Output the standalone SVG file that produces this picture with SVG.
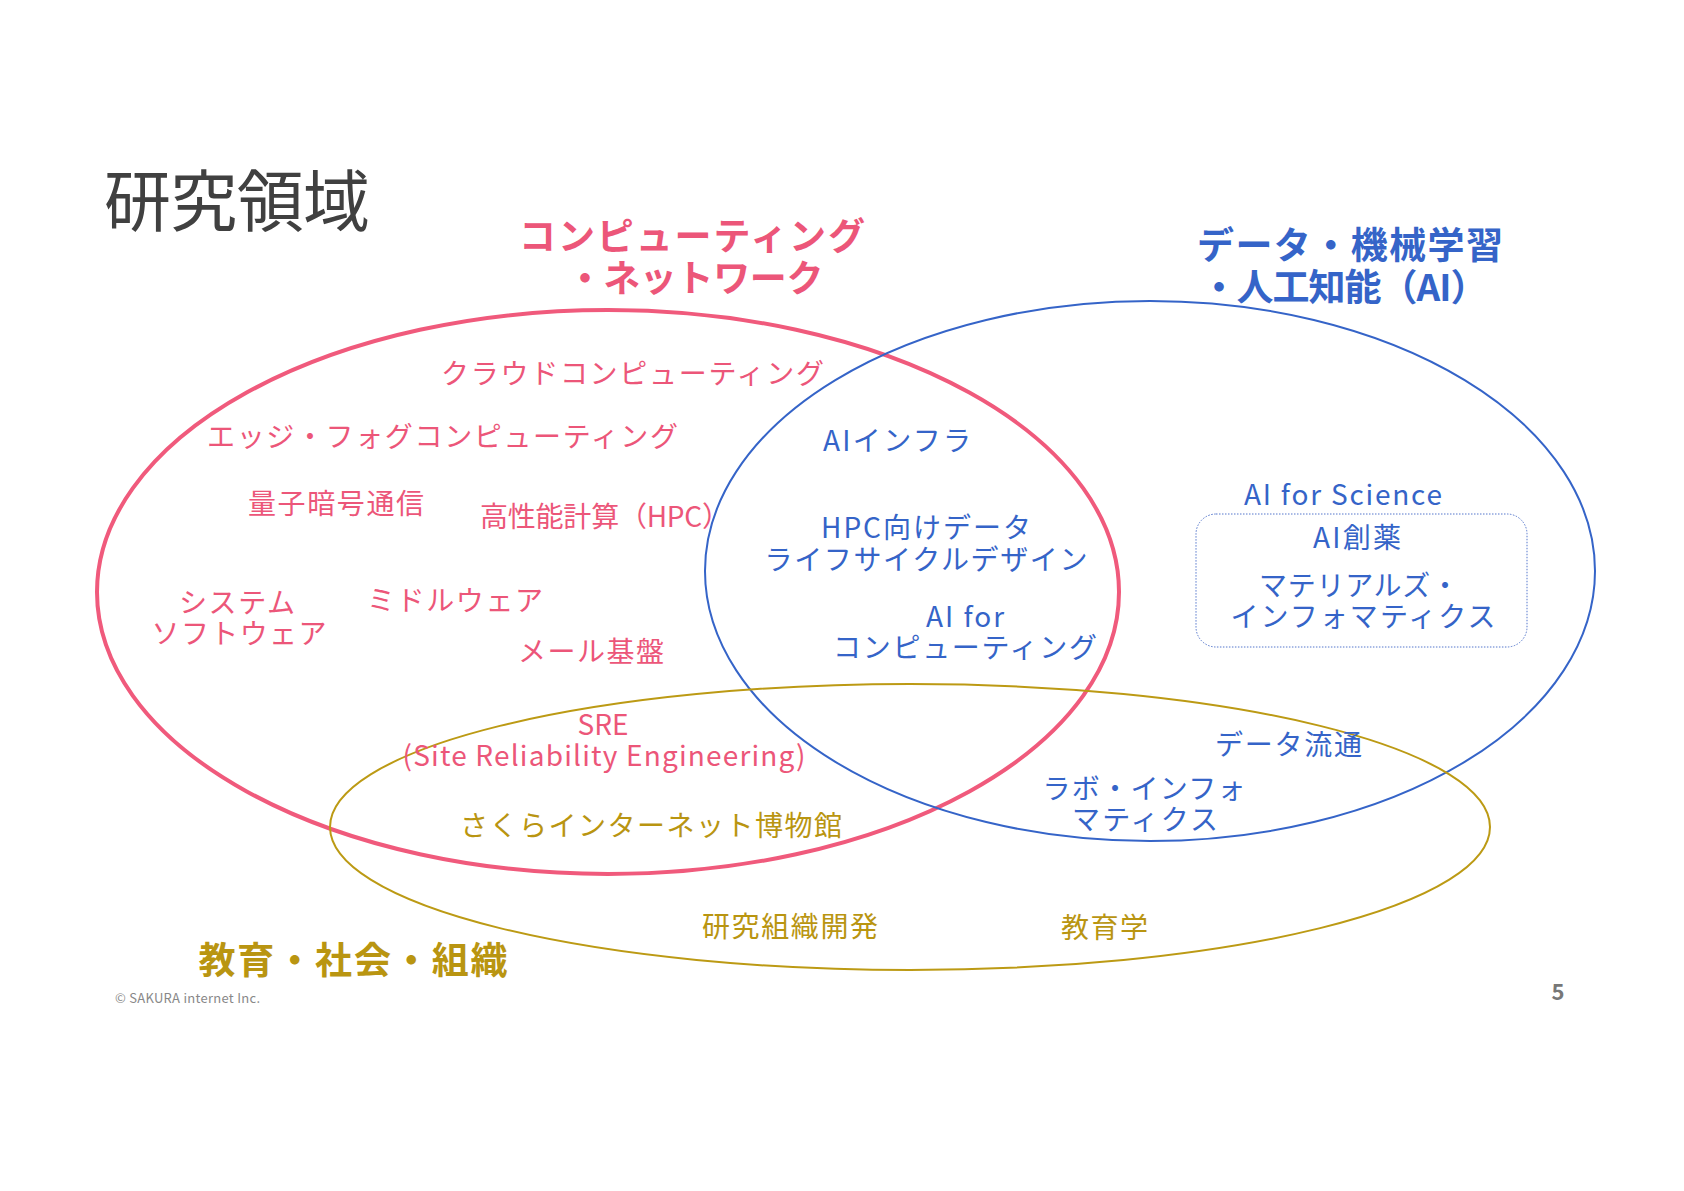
<svg xmlns="http://www.w3.org/2000/svg" width="1684" height="1191" viewBox="0 0 1684 1191">
<style>
  text { font-family: "Noto Sans CJK JP", "Noto Sans", sans-serif; }
  .r { fill: #EC5679; font-size: 28px; }
  .b { fill: #3564C8; font-size: 28px; }
  .g { fill: #B99511; font-size: 28px; }
  .m { text-anchor: middle; }
  .h { font-size: 37px; font-weight: 700; text-anchor: middle; }
</style>
<rect width="1684" height="1191" fill="#FFFFFF"/>
<g id="regions" fill="none">
  <ellipse id="region-computing" cx="608" cy="592" rx="511" ry="282" stroke="#F05A7C" stroke-width="4"/>
  <ellipse id="region-ai" cx="1150" cy="571" rx="445" ry="270" stroke="#3564C8" stroke-width="2"/>
  <ellipse id="region-edu" cx="910" cy="827" rx="580" ry="143" stroke="#BC9A14" stroke-width="2"/>
</g>
<g id="connectors"></g>
<g id="title"><text x="104" y="226" font-size="67" fill="#404040" textLength="266">研究領域</text></g>
<g id="head-computing">
  <text class="h" x="692" y="250" fill="#EC5679" textLength="346">コンピューティング</text>
  <text class="h" x="695" y="292" fill="#EC5679" textLength="257">・ネットワーク</text>
</g>
<g id="head-ai">
  <text class="h" x="1350" y="259" fill="#3564C8" textLength="306">データ・機械学習</text>
  <text class="h" x="1344" y="301" fill="#3564C8" textLength="287">・人工知能（AI）</text>
</g>
<g id="head-edu"><text class="h" x="353" y="974" fill="#B99511" textLength="309">教育・社会・組織</text></g>

<g id="n-cloud"><text class="r" x="441" y="384" textLength="383">クラウドコンピューティング</text></g>
<g id="n-edge"><text class="r" x="207" y="447" textLength="471">エッジ・フォグコンピューティング</text></g>
<g id="n-quantum"><text class="r" x="248" y="514" textLength="176">量子暗号通信</text></g>
<g id="n-hpc"><text class="r" x="480" y="527" textLength="250">高性能計算（HPC）</text></g>
<g id="n-syssoft">
  <text class="r m" x="237" y="613" textLength="116">システム</text>
  <text class="r m" x="239" y="644" textLength="175">ソフトウェア</text>
</g>
<g id="n-middleware"><text class="r" x="367" y="611" textLength="176">ミドルウェア</text></g>
<g id="n-mail"><text class="r" x="518" y="662" textLength="146">メール基盤</text></g>
<g id="n-sre">
  <text class="r m" x="603" y="735">SRE</text>
  <text class="r m" x="604" y="766" textLength="403">(Site Reliability Engineering)</text>
</g>
<g id="n-museum"><text class="g" x="460" y="836" textLength="382">さくらインターネット博物館</text></g>
<g id="n-orgdev"><text class="g" x="702" y="937" textLength="176">研究組織開発</text></g>
<g id="n-pedagogy"><text class="g" x="1061" y="938" textLength="87">教育学</text></g>

<g id="n-aiinfra"><text class="b" x="823" y="451" textLength="148">AIインフラ</text></g>
<g id="n-hpcdata">
  <text class="b m" x="926" y="538" textLength="210">HPC向けデータ</text>
  <text class="b m" x="926" y="570" textLength="323">ライフサイクルデザイン</text>
</g>
<g id="n-aiforcomp">
  <text class="b m" x="965" y="627" textLength="78">AI for</text>
  <text class="b m" x="965" y="658" textLength="264">コンピューティング</text>
</g>
<g id="n-aiforscience">
  <text class="b m" x="1343" y="505" textLength="198">AI for Science</text>
  <rect x="1196" y="514" width="331" height="133" rx="20" fill="none" stroke="#5577CC" stroke-width="1" stroke-dasharray="1.5 1.5"/>
  <text class="b m" x="1357" y="548" textLength="88">AI創薬</text>
  <text class="b m" x="1359" y="596" textLength="200">マテリアルズ・</text>
  <text class="b m" x="1363" y="627" textLength="265">インフォマティクス</text>
</g>
<g id="n-dataflow"><text class="b" x="1215" y="755" textLength="147">データ流通</text></g>
<g id="n-labinfo">
  <text class="b m" x="1144" y="799" textLength="203">ラボ・インフォ</text>
  <text class="b m" x="1145" y="830" textLength="146">マティクス</text>
</g>
<g id="footer">
  <text x="115" y="1003" font-size="13" fill="#888888" font-family="Lato, 'Noto Sans', sans-serif" textLength="145">© SAKURA internet Inc.</text>
  <text x="1558" y="1000" font-size="22" fill="#777777" font-weight="700" font-family="Lato, 'Noto Sans', sans-serif" text-anchor="middle">5</text>
</g>
</svg>
